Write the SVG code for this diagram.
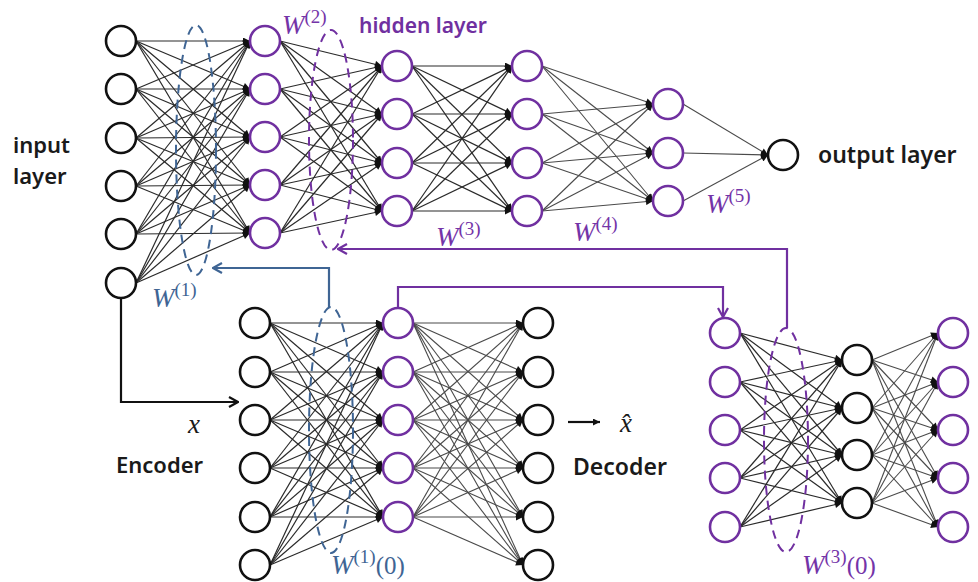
<svg xmlns="http://www.w3.org/2000/svg" width="978" height="582" viewBox="0 0 978 582">
  <style>
    .edge { stroke: #2a2a2a; stroke-width: 1.2; fill: none; marker-end: url(#tip); }
    .edge.light { stroke: #4a4a4a; stroke-width: 1.1; }
    .nb { fill: #fff; stroke: #111; stroke-width: 2.6; }
    .np { fill: #fff; stroke: #7030a0; stroke-width: 2.6; }
    .grp { fill: none; stroke-width: 2; stroke-dasharray: 9 6; }
    .route { fill: none; stroke-width: 2.2; }
    .lbl { font-family: "Noto Sans", "Open Sans", sans-serif; font-size: 22px; font-weight: 600; fill: #1a1a1a; }
    .w { font-family: "Liberation Serif", serif; font-style: italic; font-size: 27px; }
    .sup { font-family: "Liberation Serif", serif; font-style: normal; font-size: 19px; }
    .par { font-family: "Liberation Serif", serif; font-style: normal; font-size: 25px; }
    .blue { fill: #3f6594; }
    .purple { fill: #7434a8; }
  </style>
  <defs>
    <marker id="tip" viewBox="0 0 10 10" refX="10" refY="5" markerUnits="userSpaceOnUse" markerWidth="8" markerHeight="7" orient="auto">
      <path d="M0,0 L10,5 L0,10 Z" fill="#111"/>
    </marker>
    <marker id="openBlue" viewBox="0 0 12 12" refX="11" refY="6" markerUnits="userSpaceOnUse" markerWidth="12" markerHeight="12" orient="auto">
      <path d="M2,1 L11,6 L2,11" fill="none" stroke="#3f6594" stroke-width="2.2"/>
    </marker>
    <marker id="openPurple" viewBox="0 0 12 12" refX="11" refY="6" markerUnits="userSpaceOnUse" markerWidth="12" markerHeight="12" orient="auto">
      <path d="M2,1 L11,6 L2,11" fill="none" stroke="#7030a0" stroke-width="2.2"/>
    </marker>
    <marker id="openBlack" viewBox="0 0 12 12" refX="11" refY="6" markerUnits="userSpaceOnUse" markerWidth="12" markerHeight="12" orient="auto">
      <path d="M2,1 L11,6 L2,11" fill="none" stroke="#111" stroke-width="2.2"/>
    </marker>
  </defs>
  <rect width="978" height="582" fill="#fff"/>

  <!-- weighted connections between layers -->
  <g id="connectors">
    <!-- input layer to first hidden layer -->
    <g class="edge">
      <line x1="136" y1="41" x2="250" y2="41"/><line x1="136" y1="41" x2="250" y2="89"/><line x1="136" y1="41" x2="250" y2="137"/><line x1="136" y1="41" x2="250" y2="185"/><line x1="136" y1="41" x2="250" y2="233"/>
      <line x1="136" y1="89" x2="250" y2="41"/><line x1="136" y1="89" x2="250" y2="89"/><line x1="136" y1="89" x2="250" y2="137"/><line x1="136" y1="89" x2="250" y2="185"/><line x1="136" y1="89" x2="250" y2="233"/>
      <line x1="136" y1="138" x2="250" y2="41"/><line x1="136" y1="138" x2="250" y2="89"/><line x1="136" y1="138" x2="250" y2="137"/><line x1="136" y1="138" x2="250" y2="185"/><line x1="136" y1="138" x2="250" y2="233"/>
      <line x1="136" y1="186" x2="250" y2="41"/><line x1="136" y1="186" x2="250" y2="89"/><line x1="136" y1="186" x2="250" y2="137"/><line x1="136" y1="186" x2="250" y2="185"/><line x1="136" y1="186" x2="250" y2="233"/>
      <line x1="136" y1="234" x2="250" y2="41"/><line x1="136" y1="234" x2="250" y2="89"/><line x1="136" y1="234" x2="250" y2="137"/><line x1="136" y1="234" x2="250" y2="185"/><line x1="136" y1="234" x2="250" y2="233"/>
      <line x1="136" y1="283" x2="250" y2="41"/><line x1="136" y1="283" x2="250" y2="89"/><line x1="136" y1="283" x2="250" y2="137"/><line x1="136" y1="283" x2="250" y2="185"/><line x1="136" y1="283" x2="250" y2="233"/>
    </g>
    <!-- hidden 1 to hidden 2 -->
    <g class="edge">
      <line x1="280" y1="41" x2="382" y2="66"/><line x1="280" y1="41" x2="382" y2="114"/><line x1="280" y1="41" x2="382" y2="163"/><line x1="280" y1="41" x2="382" y2="211"/>
      <line x1="280" y1="89" x2="382" y2="66"/><line x1="280" y1="89" x2="382" y2="114"/><line x1="280" y1="89" x2="382" y2="163"/><line x1="280" y1="89" x2="382" y2="211"/>
      <line x1="280" y1="137" x2="382" y2="66"/><line x1="280" y1="137" x2="382" y2="114"/><line x1="280" y1="137" x2="382" y2="163"/><line x1="280" y1="137" x2="382" y2="211"/>
      <line x1="280" y1="185" x2="382" y2="66"/><line x1="280" y1="185" x2="382" y2="114"/><line x1="280" y1="185" x2="382" y2="163"/><line x1="280" y1="185" x2="382" y2="211"/>
      <line x1="280" y1="233" x2="382" y2="66"/><line x1="280" y1="233" x2="382" y2="114"/><line x1="280" y1="233" x2="382" y2="163"/><line x1="280" y1="233" x2="382" y2="211"/>
    </g>
    <!-- hidden 2 to hidden 3 -->
    <g class="edge">
      <line x1="412" y1="66" x2="512" y2="66"/><line x1="412" y1="66" x2="512" y2="114"/><line x1="412" y1="66" x2="512" y2="163"/><line x1="412" y1="66" x2="512" y2="211"/>
      <line x1="412" y1="114" x2="512" y2="66"/><line x1="412" y1="114" x2="512" y2="114"/><line x1="412" y1="114" x2="512" y2="163"/><line x1="412" y1="114" x2="512" y2="211"/>
      <line x1="412" y1="163" x2="512" y2="66"/><line x1="412" y1="163" x2="512" y2="114"/><line x1="412" y1="163" x2="512" y2="163"/><line x1="412" y1="163" x2="512" y2="211"/>
      <line x1="412" y1="211" x2="512" y2="66"/><line x1="412" y1="211" x2="512" y2="114"/><line x1="412" y1="211" x2="512" y2="163"/><line x1="412" y1="211" x2="512" y2="211"/>
    </g>
    <!-- hidden 3 to hidden 4 -->
    <g class="edge light">
      <line x1="542" y1="66" x2="653" y2="104"/><line x1="542" y1="66" x2="653" y2="153"/><line x1="542" y1="66" x2="653" y2="201"/>
      <line x1="542" y1="114" x2="653" y2="104"/><line x1="542" y1="114" x2="653" y2="153"/><line x1="542" y1="114" x2="653" y2="201"/>
      <line x1="542" y1="163" x2="653" y2="104"/><line x1="542" y1="163" x2="653" y2="153"/><line x1="542" y1="163" x2="653" y2="201"/>
      <line x1="542" y1="211" x2="653" y2="104"/><line x1="542" y1="211" x2="653" y2="153"/><line x1="542" y1="211" x2="653" y2="201"/>
    </g>
    <!-- hidden 4 to output -->
    <g class="edge light">
      <line x1="683" y1="104" x2="768" y2="155"/><line x1="683" y1="153" x2="768" y2="155"/><line x1="683" y1="201" x2="768" y2="155"/>
    </g>
    <!-- autoencoder: encoder -->
    <g class="edge">
      <line x1="270" y1="323" x2="383" y2="323"/><line x1="270" y1="323" x2="383" y2="372"/><line x1="270" y1="323" x2="383" y2="420"/><line x1="270" y1="323" x2="383" y2="468"/><line x1="270" y1="323" x2="383" y2="517"/>
      <line x1="270" y1="372" x2="383" y2="323"/><line x1="270" y1="372" x2="383" y2="372"/><line x1="270" y1="372" x2="383" y2="420"/><line x1="270" y1="372" x2="383" y2="468"/><line x1="270" y1="372" x2="383" y2="517"/>
      <line x1="270" y1="420" x2="383" y2="323"/><line x1="270" y1="420" x2="383" y2="372"/><line x1="270" y1="420" x2="383" y2="420"/><line x1="270" y1="420" x2="383" y2="468"/><line x1="270" y1="420" x2="383" y2="517"/>
      <line x1="270" y1="468" x2="383" y2="323"/><line x1="270" y1="468" x2="383" y2="372"/><line x1="270" y1="468" x2="383" y2="420"/><line x1="270" y1="468" x2="383" y2="468"/><line x1="270" y1="468" x2="383" y2="517"/>
      <line x1="270" y1="517" x2="383" y2="323"/><line x1="270" y1="517" x2="383" y2="372"/><line x1="270" y1="517" x2="383" y2="420"/><line x1="270" y1="517" x2="383" y2="468"/><line x1="270" y1="517" x2="383" y2="517"/>
      <line x1="270" y1="565" x2="383" y2="323"/><line x1="270" y1="565" x2="383" y2="372"/><line x1="270" y1="565" x2="383" y2="420"/><line x1="270" y1="565" x2="383" y2="468"/><line x1="270" y1="565" x2="383" y2="517"/>
    </g>
    <!-- autoencoder: decoder -->
    <g class="edge light">
      <line x1="413" y1="323" x2="523" y2="323"/><line x1="413" y1="323" x2="523" y2="372"/><line x1="413" y1="323" x2="523" y2="420"/><line x1="413" y1="323" x2="523" y2="468"/><line x1="413" y1="323" x2="523" y2="517"/><line x1="413" y1="323" x2="523" y2="565"/>
      <line x1="413" y1="372" x2="523" y2="323"/><line x1="413" y1="372" x2="523" y2="372"/><line x1="413" y1="372" x2="523" y2="420"/><line x1="413" y1="372" x2="523" y2="468"/><line x1="413" y1="372" x2="523" y2="517"/><line x1="413" y1="372" x2="523" y2="565"/>
      <line x1="413" y1="420" x2="523" y2="323"/><line x1="413" y1="420" x2="523" y2="372"/><line x1="413" y1="420" x2="523" y2="420"/><line x1="413" y1="420" x2="523" y2="468"/><line x1="413" y1="420" x2="523" y2="517"/><line x1="413" y1="420" x2="523" y2="565"/>
      <line x1="413" y1="468" x2="523" y2="323"/><line x1="413" y1="468" x2="523" y2="372"/><line x1="413" y1="468" x2="523" y2="420"/><line x1="413" y1="468" x2="523" y2="468"/><line x1="413" y1="468" x2="523" y2="517"/><line x1="413" y1="468" x2="523" y2="565"/>
      <line x1="413" y1="517" x2="523" y2="323"/><line x1="413" y1="517" x2="523" y2="372"/><line x1="413" y1="517" x2="523" y2="420"/><line x1="413" y1="517" x2="523" y2="468"/><line x1="413" y1="517" x2="523" y2="517"/><line x1="413" y1="517" x2="523" y2="565"/>
    </g>
    <!-- second autoencoder: encoder -->
    <g class="edge">
      <line x1="740" y1="333" x2="842" y2="360"/><line x1="740" y1="333" x2="842" y2="408"/><line x1="740" y1="333" x2="842" y2="455"/><line x1="740" y1="333" x2="842" y2="503"/>
      <line x1="740" y1="382" x2="842" y2="360"/><line x1="740" y1="382" x2="842" y2="408"/><line x1="740" y1="382" x2="842" y2="455"/><line x1="740" y1="382" x2="842" y2="503"/>
      <line x1="740" y1="430" x2="842" y2="360"/><line x1="740" y1="430" x2="842" y2="408"/><line x1="740" y1="430" x2="842" y2="455"/><line x1="740" y1="430" x2="842" y2="503"/>
      <line x1="740" y1="478" x2="842" y2="360"/><line x1="740" y1="478" x2="842" y2="408"/><line x1="740" y1="478" x2="842" y2="455"/><line x1="740" y1="478" x2="842" y2="503"/>
      <line x1="740" y1="527" x2="842" y2="360"/><line x1="740" y1="527" x2="842" y2="408"/><line x1="740" y1="527" x2="842" y2="455"/><line x1="740" y1="527" x2="842" y2="503"/>
    </g>
    <!-- second autoencoder: decoder -->
    <g class="edge light">
      <line x1="872" y1="360" x2="938" y2="333"/><line x1="872" y1="360" x2="938" y2="382"/><line x1="872" y1="360" x2="938" y2="430"/><line x1="872" y1="360" x2="938" y2="478"/><line x1="872" y1="360" x2="938" y2="527"/>
      <line x1="872" y1="408" x2="938" y2="333"/><line x1="872" y1="408" x2="938" y2="382"/><line x1="872" y1="408" x2="938" y2="430"/><line x1="872" y1="408" x2="938" y2="478"/><line x1="872" y1="408" x2="938" y2="527"/>
      <line x1="872" y1="455" x2="938" y2="333"/><line x1="872" y1="455" x2="938" y2="382"/><line x1="872" y1="455" x2="938" y2="430"/><line x1="872" y1="455" x2="938" y2="478"/><line x1="872" y1="455" x2="938" y2="527"/>
      <line x1="872" y1="503" x2="938" y2="333"/><line x1="872" y1="503" x2="938" y2="382"/><line x1="872" y1="503" x2="938" y2="430"/><line x1="872" y1="503" x2="938" y2="478"/><line x1="872" y1="503" x2="938" y2="527"/>
    </g>

    <!-- routing arrows between the networks -->
    <path class="route" stroke="#111" d="M121,298 V402 H238" marker-end="url(#openBlack)"/>
    <path class="route" stroke="#3f6594" d="M329,307 V268 H213" marker-end="url(#openBlue)"/>
    <path class="route" stroke="#7030a0" d="M787,328 V249 H338" marker-end="url(#openPurple)"/>
    <path class="route" stroke="#7030a0" d="M398,308 V287 H723 V317" marker-end="url(#openPurple)"/>
    <line x1="568" y1="422" x2="600" y2="422" stroke="#111" stroke-width="2.2" marker-end="url(#tip)"/>
  </g>

  <!-- dashed weight groupings -->
  <g id="weight-groups">
    <ellipse class="grp" stroke="#3f6594" cx="196" cy="150" rx="20" ry="125"/>
    <ellipse class="grp" stroke="#7030a0" cx="331" cy="140" rx="22" ry="110"/>
    <ellipse class="grp" stroke="#3f6594" cx="331" cy="430" rx="22" ry="123"/>
    <ellipse class="grp" stroke="#7030a0" cx="786" cy="440" rx="22" ry="112"/>
  </g>

  <!-- deep network -->
  <g id="input-layer">
    <circle class="nb" cx="121" cy="41" r="15"/><circle class="nb" cx="121" cy="89" r="15"/><circle class="nb" cx="121" cy="138" r="15"/>
    <circle class="nb" cx="121" cy="186" r="15"/><circle class="nb" cx="121" cy="234" r="15"/><circle class="nb" cx="121" cy="283" r="15"/>
  </g>
  <g id="hidden-1">
    <circle class="np" cx="265" cy="41" r="15"/><circle class="np" cx="265" cy="89" r="15"/><circle class="np" cx="265" cy="137" r="15"/>
    <circle class="np" cx="265" cy="185" r="15"/><circle class="np" cx="265" cy="233" r="15"/>
  </g>
  <g id="hidden-2">
    <circle class="np" cx="397" cy="66" r="15"/><circle class="np" cx="397" cy="114" r="15"/><circle class="np" cx="397" cy="163" r="15"/><circle class="np" cx="397" cy="211" r="15"/>
  </g>
  <g id="hidden-3">
    <circle class="np" cx="527" cy="66" r="15"/><circle class="np" cx="527" cy="114" r="15"/><circle class="np" cx="527" cy="163" r="15"/><circle class="np" cx="527" cy="211" r="15"/>
  </g>
  <g id="hidden-4">
    <circle class="np" cx="668" cy="104" r="15"/><circle class="np" cx="668" cy="153" r="15"/><circle class="np" cx="668" cy="201" r="15"/>
  </g>
  <g id="output-layer">
    <circle class="nb" cx="783" cy="155" r="15"/>
  </g>

  <!-- first autoencoder -->
  <g id="ae1-input">
    <circle class="nb" cx="255" cy="323" r="15"/><circle class="nb" cx="255" cy="372" r="15"/><circle class="nb" cx="255" cy="420" r="15"/>
    <circle class="nb" cx="255" cy="468" r="15"/><circle class="nb" cx="255" cy="517" r="15"/><circle class="nb" cx="255" cy="565" r="15"/>
  </g>
  <g id="ae1-code">
    <circle class="np" cx="398" cy="323" r="15"/><circle class="np" cx="398" cy="372" r="15"/><circle class="np" cx="398" cy="420" r="15"/>
    <circle class="np" cx="398" cy="468" r="15"/><circle class="np" cx="398" cy="517" r="15"/>
  </g>
  <g id="ae1-output">
    <circle class="nb" cx="538" cy="323" r="15"/><circle class="nb" cx="538" cy="372" r="15"/><circle class="nb" cx="538" cy="420" r="15"/>
    <circle class="nb" cx="538" cy="468" r="15"/><circle class="nb" cx="538" cy="517" r="15"/><circle class="nb" cx="538" cy="565" r="15"/>
  </g>

  <!-- second autoencoder -->
  <g id="ae2-input">
    <circle class="np" cx="725" cy="333" r="15"/><circle class="np" cx="725" cy="382" r="15"/><circle class="np" cx="725" cy="430" r="15"/>
    <circle class="np" cx="725" cy="478" r="15"/><circle class="np" cx="725" cy="527" r="15"/>
  </g>
  <g id="ae2-code">
    <circle class="nb" cx="857" cy="360" r="15"/><circle class="nb" cx="857" cy="408" r="15"/><circle class="nb" cx="857" cy="455" r="15"/><circle class="nb" cx="857" cy="503" r="15"/>
  </g>
  <g id="ae2-output">
    <circle class="np" cx="953" cy="333" r="15"/><circle class="np" cx="953" cy="382" r="15"/><circle class="np" cx="953" cy="430" r="15"/>
    <circle class="np" cx="953" cy="478" r="15"/><circle class="np" cx="953" cy="527" r="15"/>
  </g>

  <!-- labels -->
  <g id="labels">
    <text class="lbl" x="13" y="153">input</text>
    <text class="lbl" x="13" y="184">layer</text>
    <text class="lbl" x="818" y="163" style="font-size:23px">output layer</text>
    <text class="lbl" x="359" y="33" style="fill:#7030a0;font-size:21px">hidden layer</text>
    <text class="lbl" x="116" y="473">Encoder</text>
    <text class="lbl" x="573" y="475" style="font-size:23px">Decoder</text>
    <text class="w" x="188" y="433" fill="#1a1a1a">x</text>
    <text class="w" x="620" y="432" fill="#1a1a1a">x&#x302;</text>

    <text class="w purple" x="282" y="34">W<tspan class="sup" dy="-11">(2)</tspan></text>
    <text class="w blue" x="152" y="307">W<tspan class="sup" dy="-11">(1)</tspan></text>
    <text class="w purple" x="436" y="246">W<tspan class="sup" dy="-11">(3)</tspan></text>
    <text class="w purple" x="573" y="241">W<tspan class="sup" dy="-11">(4)</tspan></text>
    <text class="w purple" x="706" y="213">W<tspan class="sup" dy="-11">(5)</tspan></text>
    <text class="w blue" x="331" y="574">W<tspan class="sup" dy="-11">(1)</tspan><tspan class="par" dy="11">(0)</tspan></text>
    <text class="w purple" x="802" y="574">W<tspan class="sup" dy="-11">(3)</tspan><tspan class="par" dy="11">(0)</tspan></text>
  </g>
</svg>
